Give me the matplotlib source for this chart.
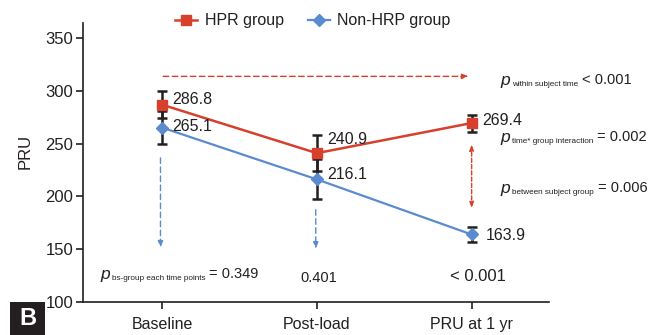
import matplotlib
matplotlib.use("Agg")
import matplotlib.pyplot as plt
from matplotlib.patches import Rectangle

plt.rcParams['font.family'] = ['Liberation Sans', 'DejaVu Sans']

categories = ["Baseline", "Post-load", "PRU at 1 yr"]
hpr_values = [286.8, 240.9, 269.4]
hpr_err = [13, 17, 8]
non_values = [265.1, 216.1, 163.9]
non_err = [16, 19, 7.5]
hpr_labels = ["286.8", "240.9", "269.4"]
non_labels = ["265.1", "216.1", "163.9"]
bs_pvalues = ["= 0.349", "0.401", "< 0.001"]

RED = "#d6402c"
BLUE = "#5b8bcf"
TXT = "#231f20"

fig = plt.figure(figsize=(6.49, 3.35), dpi=100)
ax = fig.add_axes([0.128, 0.0985, 0.718, 0.8325])
x = list(range(len(categories)))

ax.errorbar(x, hpr_values, yerr=hpr_err, fmt='none', ecolor=TXT, elinewidth=1.8, capsize=3.5, capthick=1.8, zorder=2)
ax.errorbar(x, non_values, yerr=non_err, fmt='none', ecolor=TXT, elinewidth=1.8, capsize=3.5, capthick=1.8, zorder=2)
ax.plot(x, hpr_values, color=RED, lw=1.8, marker='s', ms=7.5, label="HPR group", zorder=3)
ax.plot(x, non_values, color=BLUE, lw=1.6, marker='D', ms=6.5, label="Non-HRP group", zorder=3)

fs = 11.5
hpr_dy = [4.5, 12.5, 2.3]
non_dy = [1.0, 4.2, -0.5]
for xi, v, t, dy in zip(x, hpr_values, hpr_labels, hpr_dy):
    ax.annotate(t, xy=(xi, v + dy), xytext=(7.5, 0), textcoords='offset points',
                fontsize=fs, color=TXT, va='center', ha='left')
for xi, v, t, dy in zip(x, non_values, non_labels, non_dy):
    ax.annotate(t, xy=(xi, v + dy), xytext=(7.5 if xi < 2 else 10.5, 0), textcoords='offset points',
                fontsize=fs, color=TXT, va='center', ha='left')

# arrows
ax.annotate("", xy=(2.0, 313.6), xytext=(-0.01, 313.6),
            arrowprops=dict(arrowstyle='-|>,head_length=0.4,head_width=0.15', color=RED, lw=1.0, ls=(0, (4, 2.5))))
ax.annotate("", xy=(2.0, 252), xytext=(2.0, 186),
            arrowprops=dict(arrowstyle='<|-|>,head_length=0.35,head_width=0.12', color=RED, lw=1.0, ls=(0, (3, 1.5))))
ax.annotate("", xy=(-0.01, 148.5), xytext=(-0.01, 239),
            arrowprops=dict(arrowstyle='-|>,head_length=0.4,head_width=0.15', color=BLUE, lw=1.0, ls=(0, (4, 2.5))))
ax.annotate("", xy=(0.993, 147.5), xytext=(0.993, 190),
            arrowprops=dict(arrowstyle='-|>,head_length=0.4,head_width=0.15', color=BLUE, lw=1.0, ls=(0, (4, 2.5))))


def p_text(xp, yp, sub, val, valsize=10.5):
    t1 = ax.text(xp, yp, "p", fontsize=12.5, style='italic', color=TXT, va='center', ha='left')
    t2 = ax.annotate(sub, xy=(1, 0), xycoords=t1, xytext=(1.5, 0.5), textcoords='offset points',
                     fontsize=5.9, color=TXT, va='bottom', ha='left')
    ax.annotate(val, xy=(1, 0.5), xycoords=(t2, t1), xytext=(2.5, 0.5), textcoords='offset points',
                fontsize=valsize, color=TXT, va='center', ha='left')


p_text(2.188, 309.3, "within subject time", "< 0.001")
p_text(2.188, 255.3, "time* group interaction", "= 0.002")
p_text(2.188, 207.0, "between subject group", "= 0.006")
p_text(-0.401, 125.6, "bs-group each time points", bs_pvalues[0])
ax.text(1.01, 122.7, bs_pvalues[1], fontsize=10.5, color=TXT, va='center', ha='center')
ax.text(2.04, 123.7, bs_pvalues[2], fontsize=12, color=TXT, va='center', ha='center')

ax.set_xlim(-0.51, 2.5)
ax.set_ylim(100, 364)
ax.set_yticks([100, 150, 200, 250, 300, 350])
ax.set_xticks(x)
ax.set_xticklabels(categories)
ax.tick_params(axis='y', labelsize=12, colors=TXT, width=1.2, length=5, direction='out', pad=2)
ax.tick_params(axis='x', labelsize=11.5, colors=TXT, width=1.2, length=5, direction='out', pad=6)
for s in ['top', 'right']:
    ax.spines[s].set_visible(False)
for s in ['left', 'bottom']:
    ax.spines[s].set_linewidth(1.2)
    ax.spines[s].set_color(TXT)
fig.text(25 / 649, 1 - 151 / 335, "PRU", fontsize=12, color=TXT, rotation=90, ha='center', va='center')

leg = fig.legend(*ax.get_legend_handles_labels(), loc='center left', bbox_to_anchor=(175 / 649, 1 - 21 / 335),
                 ncol=2, frameon=False, fontsize=11.5, handlelength=1.4, columnspacing=1.5,
                 handletextpad=0.45, borderpad=0, borderaxespad=0)
for t in leg.get_texts():
    t.set_color(TXT)

# B label
fig.patches.append(Rectangle((10 / 649, 0), 35 / 649, 33.5 / 335, transform=fig.transFigure,
                             facecolor='#231f20', edgecolor='none'))
fig.text(27.5 / 649, 16.5 / 335, "B", fontsize=17, fontweight='bold', color='white', ha='center', va='center')

fig.savefig("out.png", dpi=100)
